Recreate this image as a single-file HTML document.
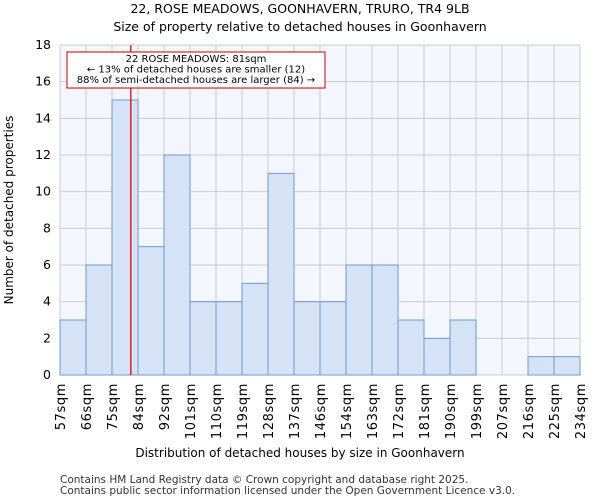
<!DOCTYPE html>
<html><head><meta charset="utf-8"><style>
body{margin:0;background:#fff;font-family:"DejaVu Sans","Liberation Sans",sans-serif;}
svg text{font-family:"DejaVu Sans","Liberation Sans",sans-serif;}
</style></head><body>
<svg id="chart" width="600" height="500" xmlns="http://www.w3.org/2000/svg">
<text x="300" y="13" text-anchor="middle" font-size="12.5">22, ROSE MEADOWS, GOONHAVERN, TRURO, TR4 9LB</text>
<text x="300" y="31" text-anchor="middle" font-size="12.5">Size of property relative to detached houses in Goonhavern</text>
<rect x="60" y="45" width="520" height="330" fill="#f3f6fd"/>
<g id="grid"></g>
<g id="bars"></g>
<g id="axes"></g>
<text transform="translate(13,210) rotate(-90)" text-anchor="middle" font-size="12">Number of detached properties</text>
<text x="300" y="457" text-anchor="middle" font-size="12">Distribution of detached houses by size in Goonhavern</text>
<text x="60" y="483" font-size="10.5" fill="#333">Contains HM Land Registry data © Crown copyright and database right 2025.</text>
<text x="60" y="494" font-size="10.5" fill="#333">Contains public sector information licensed under the Open Government Licence v3.0.</text>
</svg>
<script>
const categories=["57sqm","66sqm","75sqm","84sqm","92sqm","101sqm","110sqm","119sqm","128sqm","137sqm","146sqm","154sqm","163sqm","172sqm","181sqm","190sqm","199sqm","207sqm","216sqm","225sqm","234sqm"];
const counts=[3,6,15,7,12,4,4,5,11,4,4,6,6,3,2,3,0,0,1,1];
const yTicks=[0,2,4,6,8,10,12,14,16,18];
const markerValue=81;
const edgeValues=[57,66,75,84,92,101,110,119,128,137,146,154,163,172,181,190,199,207,216,225,234];
const NS="http://www.w3.org/2000/svg";
const X0=60,X1=580,Y0=375,Y1=45,YMAX=18;
const n=counts.length,bw=(X1-X0)/n;
const xEdge=i=>X0+i*bw;
const y=v=>Y0-(v/YMAX)*(Y0-Y1);
function mk(tag,attrs,parent){const e=document.createElementNS(NS,tag);for(const k in attrs)e.setAttribute(k,attrs[k]);document.getElementById(parent).appendChild(e);return e;}
yTicks.forEach(t=>{
 const l=mk('line',{x1:X0,x2:X1,y1:y(t),y2:y(t),stroke:'#cccccc'},'grid');
 
 
 const tx=mk('text',{x:X0-9,y:y(t)+4,'text-anchor':'end','font-size':'12.5'},'axes');
 tx.textContent=t;
 
 
});
categories.forEach((c,i)=>{
 const l=mk('line',{x1:xEdge(i),x2:xEdge(i),y1:Y1,y2:Y0,stroke:'#cccccc'},'grid');
 
 
 const tx=mk('text',{transform:`translate(${xEdge(i)+5},${Y0+8}) rotate(-90)`,'text-anchor':'end','font-size':'13','letter-spacing':'0.6'},'axes');
 tx.textContent=c;
 
 
});
counts.forEach((v,i)=>{
 if(v<=0)return;
 const r=mk('rect',{x:xEdge(i),y:y(v),width:bw,height:Y0-y(v),fill:'#d6e2f5',stroke:'#6a98d8','stroke-width':'1'},'bars');
 
 
});
let mi=0;while(mi<edgeValues.length-2&&edgeValues[mi+1]<=markerValue)mi++;
const mx=xEdge(mi)+(markerValue-edgeValues[mi])/(edgeValues[mi+1]-edgeValues[mi])*bw+1.5;
const ml=mk('line',{x1:mx,x2:mx,y1:Y1,y2:Y0,stroke:'#c00000','stroke-width':'1.2'},'axes');


const box=mk('rect',{x:67,y:52,width:258,height:36,fill:'#fff',stroke:'#c00000','stroke-width':'1'},'axes');


["22 ROSE MEADOWS: 81sqm","← 13% of detached houses are smaller (12)","88% of semi-detached houses are larger (84) →"].forEach((s,k)=>{
 const t=mk('text',{x:196,y:62+k*10.5,'text-anchor':'middle','font-size':'10'},'axes');
 t.textContent=s;
 
 
});
</script>
</body></html>
